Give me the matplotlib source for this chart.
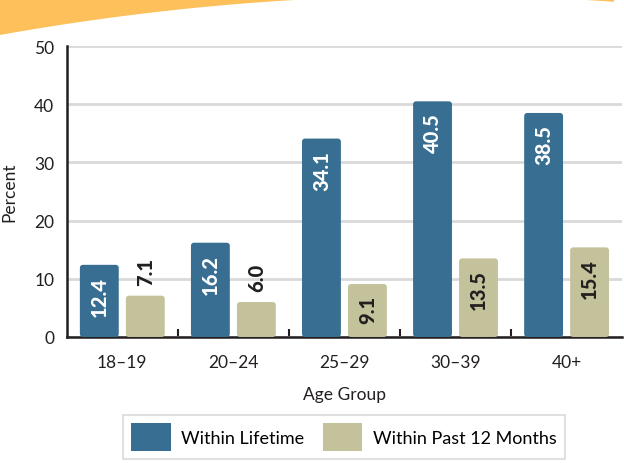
import numpy as np
import matplotlib.pyplot as plt
from matplotlib.patches import FancyBboxPatch, Polygon, Patch

# data
groups = ['18\u201319', '20\u201324', '25\u201329', '30\u201339', '40+']
lifetime = [12.4, 16.2, 34.1, 40.5, 38.5]
past_year = [7.1, 6.0, 9.1, 13.5, 15.4]

blue = '#376E91'
tan = '#C4C29B'
dark = '#231F20'

plt.rcParams['font.family'] = ['Lato', 'DejaVu Sans']

fig = plt.figure(figsize=(6.24, 4.64), dpi=100)
ax = fig.add_axes([0.107, 0.2716, 0.89, 0.627])

# orange swoosh at the top (figure pixel coords)
xs = np.linspace(0, 614, 100)
ys = 464 - (2.03e-4 * (xs - 440) ** 2 - 3.33)
pts = list(zip(xs, ys)) + [(614, 470), (0, 470)]
fig.patches.append(Polygon(pts, closed=True, transform=None,
                           facecolor='#FDC05A', edgecolor='none'))

x = np.arange(len(groups))
w = 0.35
off = 0.207

# rounded bars
px_x = 0.89 * 624 / 5.0
px_y = 0.627 * 464 / 50.0
r = 3.0 / px_x
asp = (3.0 / px_y) / r
bars1 = ax.bar(x - off, lifetime, w, color='none')
bars2 = ax.bar(x + off, past_year, w, color='none')
for bars, col in [(bars1, blue), (bars2, tan)]:
    for b in bars:
        ax.add_patch(FancyBboxPatch((b.get_x(), 0), b.get_width(), b.get_height(),
                                    boxstyle='round,pad=0,rounding_size=%f' % r,
                                    mutation_aspect=asp, facecolor=col,
                                    edgecolor='none', zorder=3))

# value labels
for i in range(len(groups)):
    ax.annotate('%.1f' % lifetime[i], (x[i] - off, lifetime[i]), xytext=(0, -8),
                textcoords='offset points', rotation=90, ha='center', va='top',
                color='white', fontsize=14.5, fontweight='black', zorder=4)
    v = past_year[i]
    if v > 8:
        ax.annotate('%.1f' % v, (x[i] + off, v), xytext=(0, -8),
                    textcoords='offset points', rotation=90, ha='center', va='top',
                    color=dark, fontsize=14.5, fontweight='black', zorder=4)
    else:
        ax.annotate('%.1f' % v, (x[i] + off, v), xytext=(0, 8),
                    textcoords='offset points', rotation=90, ha='center', va='bottom',
                    color=dark, fontsize=14.5, fontweight='black', zorder=4)

ax.set_xlim(-0.5, 4.5)
ax.set_ylim(0, 50)
ax.set_yticks([0, 10, 20, 30, 40, 50])
ax.yaxis.grid(True, color='#D9D9D9', linewidth=2)
ax.set_axisbelow(True)
ax.set_xticks(x)
ax.set_xticklabels(groups)
ax.set_xticks([0.5, 1.5, 2.5, 3.5], minor=True)
ax.tick_params(axis='x', which='major', length=0, pad=12, labelsize=12.5, colors=dark)
ax.tick_params(axis='x', which='minor', direction='in', length=6, width=1.5, color=dark)
ax.tick_params(axis='y', length=0, pad=9, labelsize=12.5, colors=dark)
for s in ['top', 'right']:
    ax.spines[s].set_visible(False)
for s in ['left', 'bottom']:
    ax.spines[s].set_linewidth(1.8)
    ax.spines[s].set_color(dark)

ax.set_xlabel('Age Group', fontsize=12.5, color=dark, labelpad=12)
ax.set_ylabel('Percent', fontsize=12.5, color=dark, labelpad=12)

handles = [Patch(facecolor=blue, label='Within Lifetime'),
           Patch(facecolor=tan, label='Within Past 12 Months')]
leg = fig.legend(handles=handles, loc='center', bbox_to_anchor=(0.551, 0.056),
                 ncol=2, frameon=True, fancybox=False, fontsize=13,
                 handlelength=2.2, handleheight=2.0, columnspacing=1.0,
                 handletextpad=0.6, borderpad=0.45)
leg.get_frame().set_edgecolor('#D9D9D9')
leg.get_frame().set_linewidth(1.5)

fig.savefig('out.png', dpi=100)
